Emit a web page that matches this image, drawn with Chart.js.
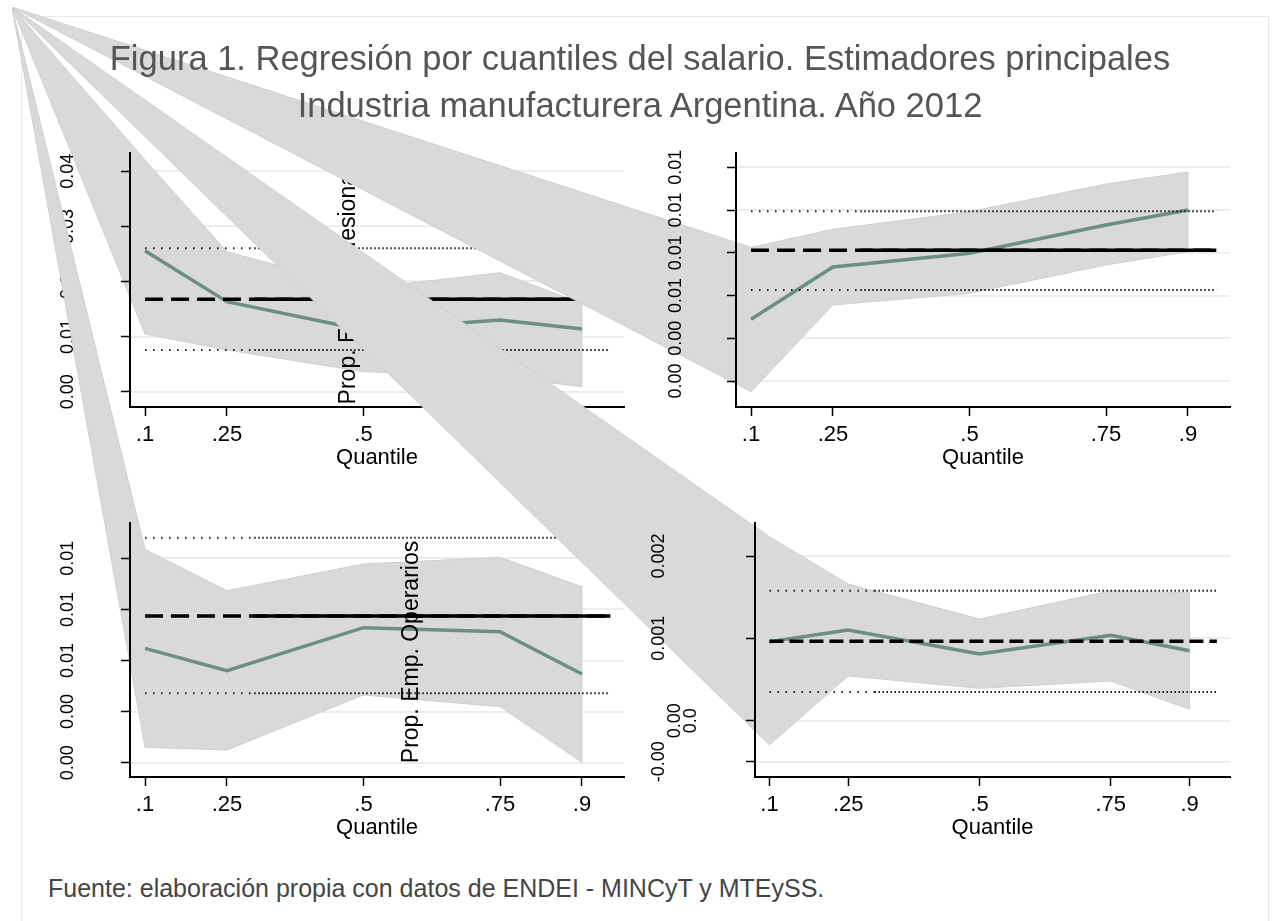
<!DOCTYPE html>
<html lang="es">
<head>
  <meta charset="UTF-8">
  <title>Figura 1. Regresión por cuantiles del salario</title>
  <script src="https://cdn.jsdelivr.net/npm/chart.js"></script>
  <style>
    body {
      margin: 0;
      width: 1275px;
      height: 921px;
      overflow: hidden;
      background: #fff;
      position: relative;
      font-family: 'Liberation Sans', Arial, sans-serif;
    }

    #frame {
      position: absolute;
      left: 21px;
      top: 16px;
      width: 1246px;
      height: 980px;
      border: 1px solid #e1eaed;
    }

    canvas.panel {
      position: absolute;
      left: 12px;
      top: 7px;
    }

    #title {
      position: absolute;
      left: 0;
      top: 35px;
      width: 1280px;
      text-align: center;
      font-size: 34.5px;
      line-height: 46.7px;
      color: #555;
      z-index: 10;
    }

    #source {
      position: absolute;
      left: 48px;
      top: 873px;
      font-size: 25px;
      line-height: 30px;
      color: #444;
    }
  </style>
</head>
<body>

  <div id="frame"></div>
  <div id="title">Figura 1. Regresión por cuantiles del salario. Estimadores principales<br>Industria manufacturera Argentina. Año 2012</div>
  <div id="source">Fuente: elaboración propia con datos de ENDEI - MINCyT y MTEySS.</div>

  <script>
    // quantiles estimated and x axis labels
    const quantiles = [0.1, 0.25, 0.5, 0.75, 0.9];
    const xTickLabels = ['.1', '.25', '.5', '.75', '.9'];
    // OLS reference lines run from .1 to past .9 (denser from .3 on)
    const olsSpan = [0.1, 0.3, 0.952];

    // top left: Prop. Emp. Profesionales
    const profCoef  = [0.02559, 0.01633, 0.0112, 0.01301, 0.01138];
    const profUpper = [0.04205, 0.02541, 0.01873, 0.0216, 0.01604];
    const profLower = [0.01047, 0.00757, 0.00363, 0.00272, 0.00091];
    const profOls   = [0.01677, 0.00757, 0.02602]; // estimate, lower, upper
    const profTicks = [0, 0.01, 0.02, 0.03, 0.04];
    const profTickLabels = ['0.00', '0.01', '0.02', '0.03', '0.04'];

    // top right
    const trCoef  = [0.004887, 0.007333, 0.007974, 0.009298, 0.0100];
    const trUpper = [0.008255, 0.009097, 0.00992, 0.011216, 0.011778];
    const trLower = [0.0015, 0.005556, 0.006103, 0.007427, 0.008049];
    const trOls   = [0.008115, 0.006257, 0.009939];
    const trTicks = [0.002, 0.004, 0.006, 0.008, 0.010, 0.012];
    const trTickLabels = ['0.00', '0.00', '0.01', '0.01', '0.01', '0.01'];

    // bottom left: Prop. Emp. Operarios
    const operCoef  = [0.006477, 0.005601, 0.007284, 0.007127, 0.005472];
    const operUpper = [0.010352, 0.008732, 0.009777, 0.010039, 0.008888];
    const operLower = [0.002603, 0.002497, 0.00465, 0.004192, 0.002016];
    const operOls   = [0.007742, 0.004716, 0.010806];
    const operTicks = [0.002, 0.004, 0.006, 0.008, 0.010];
    const operTickLabels = ['0.00', '0.00', '0.01', '0.01', '0.01'];

    // bottom right
    const brCoef  = [0.000959, 0.001101, 0.00081, 0.001037, 0.00085];
    const brUpper = [0.002234, 0.00166, 0.001235, 0.001579, 0.001554];
    const brLower = [-0.000295, 0.000543, 0.000393, 0.000482, 0.000138];
    const brOls   = [0.000964, 0.000349, 0.001579];
    const brTicks = [-0.0005, 0, 0.001, 0.002];
    const brTickLabels = ['-0.00', ['0.00', '0.0'], '0.001', '0.002'];

    Chart.defaults.font.family = "'Liberation Sans', Arial, sans-serif";
    Chart.defaults.color = '#000';

    // every panel is a full page canvas whose origin is the stray vertex of the bands
    const OX = 12, OY = 7, CW = 1263, CH = 914;
    const X_BOX = 64.2, TICK_LEN = 9;
    const X_MIN = 0.0725, X_MAX = 0.977;

    const panels = [
      { area: [130, 153, 624, 407], yMin: -0.002777, yMax: 0.04332, ticks: profTicks, labels: profTickLabels,
        coef: profCoef, upper: profUpper, lower: profLower, ols: profOls, labelOffset: 62,
        title: 'Prop. Emp. Profesionales', titleDx: 219, titleDy: -6, solidAfter: true },
      { area: [736, 153, 1230, 407], yMin: 0.000784, yMax: 0.012667, ticks: trTicks, labels: trTickLabels,
        coef: trCoef, upper: trUpper, lower: trLower, ols: trOls, labelOffset: 60, solidAfter: true },
      { area: [130, 523, 624, 777], yMin: 0.00144, yMax: 0.011382, ticks: operTicks, labels: operTickLabels,
        coef: operCoef, upper: operUpper, lower: operLower, ols: operOls, labelOffset: 62,
        title: 'Prop. Emp. Operarios', titleDx: 282, titleDy: 2, solidAfter: true },
      { area: [755, 523, 1230, 777], yMin: -0.000684, yMax: 0.002401, ticks: brTicks, labels: brTickLabels,
        coef: brCoef, upper: brUpper, lower: brLower, ols: brOls, labelOffset: 96, solidAfter: false }
    ];

    function bandPlugin(p) {
      return {
        id: 'band',
        beforeDatasetsDraw(chart) {
          const { ctx, scales: { x, y } } = chart;
          ctx.save();
          ctx.beginPath();
          ctx.moveTo(0, 0); // the exported area polygon starts at the page origin
          quantiles.forEach((q, i) => ctx.lineTo(x.getPixelForValue(q), y.getPixelForValue(p.upper[i])));
          for (let i = quantiles.length - 1; i >= 0; i--) {
            ctx.lineTo(x.getPixelForValue(quantiles[i]), y.getPixelForValue(p.lower[i]));
          }
          ctx.closePath();
          ctx.fillStyle = '#d9d9d9';
          ctx.fill();
          ctx.strokeStyle = '#cfcfcf';
          ctx.lineWidth = 1;
          ctx.stroke();
          ctx.restore();
        }
      };
    }

    function yTitlePlugin(p) {
      return {
        id: 'ytitle',
        afterDatasetsDraw(chart) {
          if (!p.title) return;
          const { ctx, chartArea } = chart;
          ctx.save();
          ctx.translate(chartArea.left + p.titleDx, (chartArea.top + chartArea.bottom) / 2 + p.titleDy);
          ctx.rotate(-Math.PI / 2);
          ctx.font = "23px 'Liberation Sans', Arial, sans-serif";
          ctx.fillStyle = '#000';
          ctx.textAlign = 'center';
          ctx.textBaseline = 'middle';
          ctx.fillText(p.title, 0, 0);
          ctx.restore();
        }
      };
    }

    function seg(x0, x1, v) {
      return [{ x: x0, y: v }, { x: x1, y: v }];
    }

    function makePanel(p) {
      const canvas = document.createElement('canvas');
      canvas.className = 'panel';
      canvas.width = CW;
      canvas.height = CH;
      document.body.appendChild(canvas);

      const m = canvas.getContext('2d');
      m.font = "18px 'Liberation Sans', Arial, sans-serif";
      const widest = Math.max(...p.labels.flat().map(s => m.measureText(s).width));
      const labelPad = p.labelOffset - TICK_LEN - widest / 2;
      const yBox = p.labelOffset + 22; // labels are clipped to the scale box

      const [l, t, r, b] = p.area;
      const dotted = { borderColor: '#1a1a1a', borderWidth: 2 };
      const line = (data, style) => Object.assign({ data, pointRadius: 0, fill: false, tension: 0, borderCapStyle: 'butt' }, style);

      const datasets = [
        line(seg(olsSpan[0], olsSpan[1], p.ols[2]), Object.assign({ borderDash: [1.5, 6.5] }, dotted)),
        line(seg(olsSpan[1], olsSpan[2], p.ols[2]), Object.assign({ borderDash: [1.5, 2.5] }, dotted)),
        line(seg(olsSpan[0], olsSpan[1], p.ols[1]), Object.assign({ borderDash: [1.5, 6.5] }, dotted)),
        line(seg(olsSpan[1], olsSpan[2], p.ols[1]), Object.assign({ borderDash: [1.5, 2.5] }, dotted)),
        line(seg(olsSpan[0], olsSpan[2], p.ols[0]), { borderColor: '#000', borderWidth: 3.5, borderDash: p.solidAfter ? [18, 8] : [14, 6] })
      ];
      if (p.solidAfter) {
        datasets.push(line(seg(olsSpan[1], olsSpan[2], p.ols[0]), { borderColor: '#000', borderWidth: 3.5 }));
      }
      datasets.push(line(quantiles.map((q, i) => ({ x: q, y: p.coef[i] })), { borderColor: '#6b8f80', borderWidth: 3.5 }));

      new Chart(canvas, {
        type: 'line',
        data: { datasets },
        plugins: [bandPlugin(p), yTitlePlugin(p)],
        options: {
          responsive: false,
          animation: false,
          devicePixelRatio: 1,
          events: [],
          layout: {
            autoPadding: false,
            padding: { left: l - OX - yBox, top: t - OY, right: OX + CW - r, bottom: OY + CH - b - X_BOX }
          },
          plugins: { legend: { display: false }, tooltip: { enabled: false } },
          scales: {
            x: {
              type: 'linear', position: 'bottom', min: X_MIN, max: X_MAX, z: 1,
              afterBuildTicks: s => { s.ticks = quantiles.map(v => ({ value: v })); },
              afterFit: s => { s.height = X_BOX; },
              grid: { drawOnChartArea: false, drawTicks: true, tickLength: TICK_LEN, tickColor: '#000', tickWidth: 1.5, z: 1 },
              border: { display: true, color: '#000', width: 2, z: 1 },
              ticks: { autoSkip: false, maxRotation: 0, padding: 5.8, font: { size: 22 }, callback: (v, i) => xTickLabels[i], z: 1 },
              title: { display: true, text: 'Quantile', font: { size: 22 }, padding: 0 }
            },
            yg: {
              type: 'linear', position: 'left', min: p.yMin, max: p.yMax,
              afterBuildTicks: s => { s.ticks = p.ticks.map(v => ({ value: v })); },
              afterFit: s => { s.width = 0; },
              grid: { drawOnChartArea: true, drawTicks: false, color: '#e7eff1', lineWidth: 2, z: -1 },
              border: { display: false },
              ticks: { display: false }
            },
            y: {
              type: 'linear', position: 'left', min: p.yMin, max: p.yMax, z: 1,
              afterBuildTicks: s => { s.ticks = p.ticks.map(v => ({ value: v })); },
              afterFit: s => { s.width = yBox; },
              grid: { drawOnChartArea: false, drawTicks: true, tickLength: TICK_LEN, tickColor: '#000', tickWidth: 1.5, z: 1 },
              border: { display: true, color: '#000', width: 2, z: 1 },
              ticks: {
                autoSkip: false, minRotation: 90, maxRotation: 90, crossAlign: 'center', padding: labelPad, z: 1,
                font: { size: 18, lineHeight: 16 / 18 },
                callback: (v, i) => {
                  const lab = p.labels[i];
                  // stacked labels sit to the right of the single ones, as in the export
                  return Array.isArray(lab) ? Array(lab.length + 1).fill('').concat(lab) : lab;
                }
              }
            }
          }
        }
      });
    }

    panels.forEach(makePanel);
  </script>

</body>
</html>
